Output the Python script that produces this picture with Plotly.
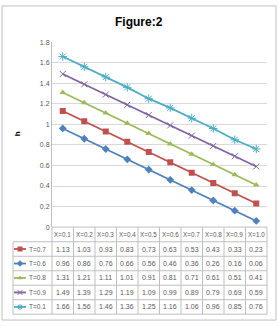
import plotly.graph_objects as go

W, H = 279, 326

categories = ["X=0.1", "X=0.2", "X=0.3", "X=0.4", "X=0.5",
              "X=0.6", "X=0.7", "X=0.8", "X=0.9", "X=1.0"]
series_names = ["T=0.7", "T=0.6", "T=0.8", "T=0.9", "T=0.1"]
t07 = [1.13, 1.03, 0.93, 0.83, 0.73, 0.63, 0.53, 0.43, 0.33, 0.23]
t06 = [0.96, 0.86, 0.76, 0.66, 0.56, 0.46, 0.36, 0.26, 0.16, 0.06]
t08 = [1.31, 1.21, 1.11, 1.01, 0.91, 0.81, 0.71, 0.61, 0.51, 0.41]
t09 = [1.49, 1.39, 1.29, 1.19, 1.09, 0.99, 0.89, 0.79, 0.69, 0.59]
t01 = [1.66, 1.56, 1.46, 1.36, 1.25, 1.16, 1.06, 0.96, 0.85, 0.76]
series_values = [t07, t06, t08, t09, t01]
yticks = [0, 0.2, 0.4, 0.6, 0.8, 1.0, 1.2, 1.4, 1.6, 1.8]

colors = ["#C0504D", "#4F81BD", "#9BBB59", "#8064A2", "#4BACC6"]
symbols = ["square", "diamond", "triangle-up", "x-thin", "asterisk"]
msizes = [6, 6, 6, 6, 7]

# pixel layout
PL, PR, PT, PB = 52, 267, 39, 228
HDR_B = 243
ROW_H = (317 - HDR_B) / 5
TL = 13
FONT = "Liberation Sans"
GRID = "#D9D9D9"
TXT = "#595959"

fig = go.Figure()

for name, vals, c, s, ms in zip(series_names, series_values, colors, symbols, msizes):
    mk = dict(symbol=s, size=ms, color=c)
    if s in ("x-thin", "asterisk"):
        mk["line"] = dict(color=c, width=1)
    fig.add_trace(go.Scatter(x=categories, y=vals, mode="lines+markers", name=name,
                             line=dict(color=c, width=1.8), marker=mk,
                             xaxis="x", yaxis="y", showlegend=False))

# legend keys inside the data table (pixel overlay axis)
for i, (c, s) in enumerate(zip(colors, symbols)):
    yc = HDR_B + ROW_H * (i + 0.5)
    mk = dict(symbol=s, size=5, color=c)
    if s in ("x-thin", "asterisk"):
        mk["line"] = dict(color=c, width=1)
    fig.add_trace(go.Scatter(x=[14, 20, 26], y=[yc, yc, yc], mode="lines",
                             line=dict(color=c, width=1.8), xaxis="x2", yaxis="y2",
                             showlegend=False, hoverinfo="skip"))
    fig.add_trace(go.Scatter(x=[20], y=[yc], mode="markers", marker=mk,
                             xaxis="x2", yaxis="y2", showlegend=False, hoverinfo="skip"))

shapes = []
annotations = []
LC = "#BFBFBF"
# outer border
shapes.append(dict(type="rect", xref="x2", yref="y2", x0=2, y0=2, x1=276, y1=323,
                   line=dict(color=LC, width=1)))
# table horizontal lines
shapes.append(dict(type="line", xref="x2", yref="y2", x0=PL, x1=PR, y0=PB, y1=PB,
                   line=dict(color=LC, width=1)))
for i in range(6):
    y = HDR_B + ROW_H * i
    shapes.append(dict(type="line", xref="x2", yref="y2", x0=TL, x1=PR, y0=y, y1=y,
                       line=dict(color=LC, width=1)))
# table vertical lines
colw = (PR - PL) / len(categories)
for k in range(len(categories) + 1):
    x = PL + colw * k
    shapes.append(dict(type="line", xref="x2", yref="y2", x0=x, x1=x, y0=PB, y1=317,
                       line=dict(color=LC, width=1)))
shapes.append(dict(type="line", xref="x2", yref="y2", x0=TL, x1=TL, y0=HDR_B, y1=317,
                   line=dict(color=LC, width=1)))

# header texts
for k, cat in enumerate(categories):
    annotations.append(dict(xref="x2", yref="y2", x=PL + colw * (k + 0.5), y=(PB + HDR_B) / 2,
                            text=cat, showarrow=False, font=dict(family=FONT, size=6.3, color=TXT)))
# rows
for i, (name, vals) in enumerate(zip(series_names, series_values)):
    yc = HDR_B + ROW_H * (i + 0.5)
    annotations.append(dict(xref="x2", yref="y2", x=27, y=yc, xanchor="left", text=name,
                            showarrow=False, font=dict(family=FONT, size=6.5, color=TXT)))
    for k, v in enumerate(vals):
        annotations.append(dict(xref="x2", yref="y2", x=PL + colw * (k + 0.5), y=yc,
                                text=f"{v:.2f}", showarrow=False,
                                font=dict(family=FONT, size=7, color=TXT)))

# title and axis title
annotations.append(dict(xref="x2", yref="y2", x=139, y=18, text="<b>Figure:2</b>",
                        showarrow=False, font=dict(family=FONT, size=12, color="#000000")))
annotations.append(dict(xref="x2", yref="y2", x=17, y=133, text="<b>h</b>", textangle=-90,
                        showarrow=False, font=dict(family=FONT, size=8, color="#000000")))

fig.update_layout(
    width=W, height=H, margin=dict(l=0, r=0, t=0, b=0),
    paper_bgcolor="white", plot_bgcolor="rgba(0,0,0,0)",
    xaxis=dict(domain=[PL / W, PR / W], type="category", range=[-0.5, 9.5],
               showticklabels=False, showgrid=False, zeroline=False,
               showline=False, ticks="", anchor="y"),
    yaxis=dict(domain=[1 - PB / H, 1 - PT / H], range=[0, 1.8], tickvals=yticks,
               showgrid=True, gridcolor=GRID, gridwidth=1, zeroline=False,
               showline=True, linecolor=LC, linewidth=1,
               tickfont=dict(family=FONT, size=7, color=TXT), ticks="", anchor="x"),
    xaxis2=dict(domain=[0, 1], range=[0, W], visible=False, anchor="y2", fixedrange=True),
    yaxis2=dict(domain=[0, 1], range=[H, 0], visible=False, anchor="x2", fixedrange=True),
    shapes=shapes, annotations=annotations,
)

fig.write_html("out.html")
